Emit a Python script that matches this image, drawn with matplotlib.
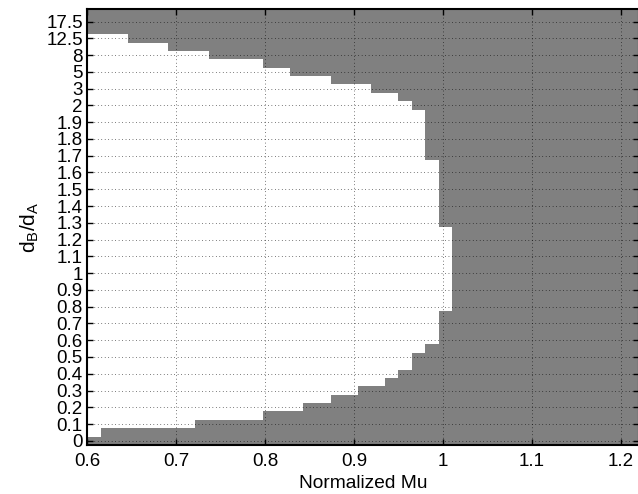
import numpy as np
import matplotlib
matplotlib.use('Agg')
import matplotlib.pyplot as plt
from matplotlib.colors import ListedColormap

plt.rcParams['font.family'] = ['Liberation Sans', 'DejaVu Sans']
plt.rcParams['mathtext.fontset'] = 'custom'
plt.rcParams['mathtext.rm'] = 'Liberation Sans'
plt.rcParams['mathtext.it'] = 'Liberation Sans'

# x grid (Normalized Mu), column width
mu_start = 0.6
mu_step = 0.0152
n_cols = 41

# y tick labels (every second row of the map)
ytick_labels = ['0', '0.1', '0.2', '0.3', '0.4', '0.5', '0.6', '0.7', '0.8', '0.9',
                '1', '1.1', '1.2', '1.3', '1.4', '1.5', '1.6', '1.7', '1.8', '1.9',
                '2', '3', '5', '8', '12.5', '17.5']

# number of feasible (white) mu columns in each of the 52 rows, bottom to top
white_cols = [0, 1, 8, 13, 16, 18, 20, 22, 23, 24, 24, 25, 26, 26, 26, 26,
              27, 27, 27, 27, 27, 27, 27, 27, 27, 27,
              26, 26, 26, 26, 26, 26, 26, 26,
              25, 25, 25, 25, 25, 25,
              24, 23, 21, 18, 15, 13, 9, 6, 3,
              0, 0, 0]

n_rows = len(white_cols)
C = np.ones((n_rows, n_cols))
for r, w in enumerate(white_cols):
    C[r, :w] = 0

x_edges = mu_start + mu_step * np.arange(n_cols + 1)
y_edges = np.arange(n_rows + 1) + 0.5

fig = plt.figure(figsize=(6.38, 4.94), dpi=100)
ax = fig.add_axes([87 / 638, 49 / 494, 552 / 638, 436 / 494])
ax.pcolormesh(x_edges, y_edges, C, cmap=ListedColormap(['white', '#808080']),
              vmin=0, vmax=1, shading='flat')

ax.set_xlim(0.6, 0.6 + 552 / 890)
ax.set_ylim(0.5, n_rows + 0.5)
ax.set_xticks([0.6, 0.7, 0.8, 0.9, 1.0, 1.1, 1.2])
ax.set_xticklabels(['0.6', '0.7', '0.8', '0.9', '1', '1.1', '1.2'])
ax.set_yticks(np.arange(1, n_rows, 2))
ax.set_yticklabels(ytick_labels)

ax.tick_params(direction='in', top=True, right=True, length=4, width=1,
               labelsize=13.5)
ax.tick_params(axis='x', pad=6)
ax.tick_params(axis='y', pad=3)
for s in ax.spines.values():
    s.set_linewidth(1.5)

ax.grid(True, color='black', linestyle=(0, (1, 4)), linewidth=0.5)

ax.set_xlabel('Normalized Mu', fontsize=13.8, labelpad=3)
ax.set_ylabel(r'$\mathregular{d_B/d_A}$', fontsize=15, labelpad=4)

fig.savefig('out.png', dpi=100)
